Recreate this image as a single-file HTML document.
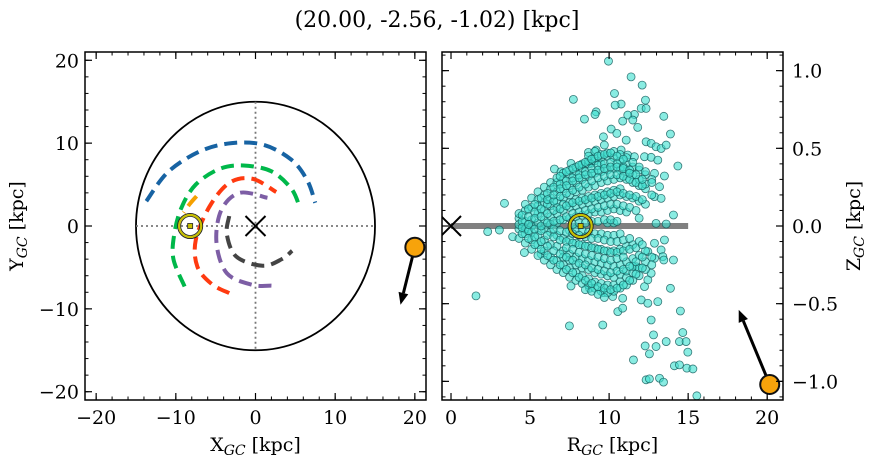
<!DOCTYPE html>
<html><head><meta charset="utf-8"><style>
html,body{margin:0;padding:0;background:#fff;}
svg{display:block;font-family:"DejaVu Serif","Liberation Serif",serif;}
</style></head><body>
<svg id="fig" width="874" height="464" viewBox="0 0 874 464" xmlns="http://www.w3.org/2000/svg">
<text x="437" y="27" text-anchor="middle" font-size="22">(20.00, -2.56, -1.02) [kpc]</text>
<g id="left"></g>
<g id="right"></g>
</svg>
<script>
// ---------- data ----------
const xyTicks = [-20,-10,0,10,20];
const rTicks = [0,5,10,15,20];
const zTicks = [-1.0,-0.5,0.0,0.5,1.0];
const zTickLabels = ["\u22121.0","\u22120.5","0.0","0.5","1.0"];
const xyTickLabels = ["\u221220","\u221210","0","10","20"];
const armNames = ["arm-outer-blue","arm-green","arm-orange","arm-red","arm-purple","arm-inner-grey"];
const armColors = ["#1763a3","#00b84a","#f5a000","#ff3a10","#7d5ea5","#444444"];
const armX = [
 [-13.7,-11,-7,-3,1,4.5,6.5,7.5],
 [-8.9,-10.3,-10.2,-9.3,-7.5,-4.5,-1.5,2,4.5,5.5],
 [-7.4,-8.3,-9.0],
 [-3.3,-5.5,-7.3,-7.5,-5.8,-3.3,-0.4,2.6],
 [2,-0.4,-3.6,-4.9,-4.3,-2,1.5],
 [-3.3,-3.6,-2.4,0.9,3.3,4.6]
];
const armY = [
 [3,6.5,9,10,9.8,8,5.5,2.8],
 [-7.3,-4,-1,2.2,5,6.9,7.3,6.6,4.5,2.4],
 [3.6,2.6,1.6],
 [-8.1,-7,-4.9,-1.7,2.3,5.2,5.7,4.1],
 [-7.2,-7.1,-5.7,-2,1.9,4,3.4],
 [1.2,-1,-3.7,-4.8,-4,-3]
];
const sunXY = [-8.2,0];
const targetXY = [20.0,-2.56];
const targetVelXY = [18.2,-9.5];
const sunRZ = [8.2,0];
const targetRZ = [20.16,-1.02];
const targetVelRZ = [18.2,-0.54];
const diskR = 15;
const coreR = [4.3,4.7,5.1,5.5,5.9,6.3,6.7,7.1,7.5,7.9,8.3,8.7,9.1,9.5,9.9,10.3,10.7,11.1,11.5,11.9,12.3,12.7];
const coreZ = [
 [.05,-.02,.08,-.08,.01],
 [.10,-.05,.03,-.11,.14,-.02],
 [.12,-.09,.04,-.15,.18,.00,-.04],
 [.17,-.12,.08,-.19,.02,.22,-.06,.13],
 [.20,-.16,.10,-.22,.04,.25,-.09,.15,-.02],
 [.24,-.20,.13,-.25,.06,.28,-.12,.18,-.04,.01],
 [.28,-.22,.16,-.28,.08,.31,-.13,.22,-.06,.02,.12],
 [.30,-.25,.18,-.30,.10,.34,-.16,.24,-.08,.04,.14,-.20],
 [.33,-.27,.20,-.33,.12,.36,-.18,.26,-.09,.05,.15,-.22,-.03],
 [.35,-.30,.22,-.35,.13,.38,-.20,.28,-.11,.06,.17,-.25,-.02],
 [.37,-.32,.23,-.37,.14,.40,-.21,.30,-.12,.07,.18,-.27,-.03],
 [.40,-.34,.25,-.38,.15,.42,-.22,.32,-.13,.08,.19,-.28,-.04,.45],
 [.42,-.36,.26,-.40,.16,.44,-.23,.34,-.14,.09,.20,-.30,-.05,.48],
 [.44,-.37,.28,-.42,.17,.46,-.24,.35,-.15,.09,.21,-.31,-.05,.40],
 [.45,-.38,.29,-.43,.18,.47,-.25,.36,-.16,.10,.22,-.32,-.06,.02],
 [.44,-.38,.30,-.42,.19,.48,-.26,.37,-.16,.11,.23,-.33,-.06,.02],
 [.42,-.36,.31,-.40,.20,.46,-.25,.36,-.15,.10,.24,-.31,-.05],
 [.40,-.33,.30,-.38,.19,.44,-.23,.35,-.13,.09,-.29],
 [.38,-.30,.28,-.35,.18,.41,-.21,.33,-.12,-.26],
 [.36,-.27,.26,-.32,.16,.38,-.19,.30,-.10,.05],
 [.33,-.23,.24,-.28,.14,.35,-.16,.27],
 [.30,-.20,.20,-.25,.28]
];
const coreR2 = [4.5,4.9,5.3,5.7,6.1,6.5,6.9,7.3,7.7,8.1,8.5,8.9,9.3,9.7,10.1,10.5,10.9,11.3,11.7,12.1];
const coreZ2 = [
 [.03,-.05,.07,-.01],
 [.06,-.08,.11,-.03,.01],
 [.09,-.12,.14,-.02,.05,-.07],
 [.11,-.15,.18,-.03,.06,-.10,.00],
 [.14,-.19,.21,-.06,.08,-.13,.02,.17],
 [.16,-.22,.25,-.07,.10,-.16,.03,.20,-.02],
 [.19,-.25,.27,-.09,.11,-.18,.04,.24,-.03,.32],
 [.21,-.28,.29,-.10,.13,-.20,.06,.26,-.04,.35,-.14],
 [.23,-.30,.31,-.11,.15,-.22,.08,.29,-.05,.37,-.15,.01],
 [.25,-.33,.33,-.12,.16,-.24,.09,.31,-.06,.39,-.17,.02],
 [.27,-.35,.35,-.13,.17,-.25,.10,.33,-.07,.41,-.18,.02,-.41],
 [.29,-.37,.37,-.14,.18,-.27,.11,.34,-.08,.43,-.19,.03,-.42],
 [.31,-.39,.39,-.15,.19,-.28,.12,.36,-.08,.45,-.20,.03,-.44],
 [.32,-.40,.40,-.16,.20,-.29,.13,.37,-.09,.46,-.21,.04,-.46],
 [.33,-.41,.41,-.17,.21,-.30,.14,.38,-.10,.47,-.22,.04],
 [.33,-.40,.40,-.17,.22,-.29,.14,.38,-.10,.45,-.21,.03],
 [.32,-.38,.38,-.16,.21,-.28,.13,.37,-.09,.43,-.20],
 [.30,-.35,.36,-.15,.20,-.26,.12,.34,-.08],
 [.28,-.31,.33,-.14,.19,-.23,.10],
 [.26,-.27,.30,-.12,.17,-.20]
];
const outR = [9.96,11.39,12.09,10.34,7.74,12.30,10.76,10.38,12.03,12.34,9.18,9.11,11.60,11.18,11.50,10.86,11.81,8.44,13.46,10.13,10.49,11.08,9.64,13.88,12.34,12.66,12.97,13.29,13.61,9.70,9.18,8.69,10.76,11.18,11.60,12.24,12.66,13.08,14.35,6.54,6.96,7.59,8.23,8.86,12.87,13.50,13.19,12.87,13.29,3.38,14.07,13.61,12.97,2.32,3.06,3.90,13.50,12.87,13.29,12.45,4.64,5.70,14.07,13.40,12.87,1.58,7.59,8.76,9.64,10.23,10.86,10.55,10.86,12.03,12.45,13.08,13.88,12.24,12.45,11.71,12.66,13.46,7.49,9.60,12.66,14.51,12.81,12.28,12.97,12.55,11.54,13.61,14.45,14.87,14.66,14.98,14.13,14.45,14.92,15.30,12.34,12.55,13.19,13.44,15.55];
const outZ = [1.061,.960,.907,.853,.815,.810,.785,.778,.757,.757,.735,.718,.718,.714,.682,.675,.635,.688,.706,.624,.596,.553,.574,.592,.542,.532,.510,.499,.521,.521,.489,.474,.489,.457,.446,.446,.442,.424,.386,.367,.349,.403,.392,.403,.339,.322,.253,.189,.178,.146,.071,.013,.017,-.036,-.026,-.069,-.090,-.111,-.154,-.165,-.171,-.180,-.219,-.197,-.208,-.450,-.386,-.401,-.429,-.454,-.465,-.551,-.529,-.476,-.497,-.487,-.401,-.390,-.347,-.262,-.304,-.219,-.643,-.637,-.605,-.547,-.701,-.772,-.776,-.823,-.862,-.744,-.744,-.744,-.686,-.812,-.900,-.894,-.915,-.920,-.990,-.984,-.980,-1.005,-1.093];

// ---------- helpers ----------
const NS="http://www.w3.org/2000/svg";
function mk(tag,attrs,parent){const e=document.createElementNS(NS,tag);for(const k in attrs)e.setAttribute(k,attrs[k]);parent.appendChild(e);return e;}
const L={x0:85,x1:426,y0:52,y1:400,xmin:-21.4,xmax:21.4,ymin:-21,ymax:21};
const R={x0:442,x1:783,y0:52,y1:400,xmin:-0.57,xmax:21.0,ymin:-1.12,ymax:1.12};
function sx(P,v){return P.x0+(v-P.xmin)/(P.xmax-P.xmin)*(P.x1-P.x0);}
function sy(P,v){return P.y1-(v-P.ymin)/(P.ymax-P.ymin)*(P.y1-P.y0);}
function smooth(pts){
 if(pts.length<3) return "M"+pts.map(p=>p.join(",")).join(" L");
 let d="M"+pts[0][0]+","+pts[0][1];
 for(let i=0;i<pts.length-1;i++){
  const p0=pts[Math.max(0,i-1)],p1=pts[i],p2=pts[i+1],p3=pts[Math.min(pts.length-1,i+2)];
  const c1=[p1[0]+(p2[0]-p0[0])/6,p1[1]+(p2[1]-p0[1])/6],c2=[p2[0]-(p3[0]-p1[0])/6,p2[1]-(p3[1]-p1[1])/6];
  d+=" C"+c1.join(",")+" "+c2.join(",")+" "+p2.join(",");
 }
 return d;
}
function ticks(g,P,major,minor,labels,majorY,minorY,labelsY,ySide){
 for(const v of minor){const x=sx(P,v);
  mk("line",{x1:x,x2:x,y1:P.y1,y2:P.y1-3.5,stroke:"#000","stroke-width":1},g);
  mk("line",{x1:x,x2:x,y1:P.y0,y2:P.y0+3.5,stroke:"#000","stroke-width":1},g);}
 major.forEach((v,i)=>{const x=sx(P,v);
  mk("line",{x1:x,x2:x,y1:P.y1,y2:P.y1-7,stroke:"#000","stroke-width":1.2},g);
  mk("line",{x1:x,x2:x,y1:P.y0,y2:P.y0+7,stroke:"#000","stroke-width":1.2},g);
  const t=mk("text",{x:x,y:P.y1+24,"text-anchor":"middle","font-size":19},g);t.textContent=labels[i];
  
  });
 for(const v of minorY){const y=sy(P,v);
  mk("line",{x1:P.x0,x2:P.x0+3.5,y1:y,y2:y,stroke:"#000","stroke-width":1},g);
  mk("line",{x1:P.x1,x2:P.x1-3.5,y1:y,y2:y,stroke:"#000","stroke-width":1},g);}
 majorY.forEach((v,i)=>{const y=sy(P,v);
  mk("line",{x1:P.x0,x2:P.x0+7,y1:y,y2:y,stroke:"#000","stroke-width":1.2},g);
  mk("line",{x1:P.x1,x2:P.x1-7,y1:y,y2:y,stroke:"#000","stroke-width":1.2},g);
  const t= ySide==="left"? mk("text",{x:P.x0-6,y:y+7,"text-anchor":"end","font-size":19},g)
                         : mk("text",{x:P.x1+9,y:y+7,"text-anchor":"start","font-size":19},g);
  t.textContent=labelsY[i];
  
  });
}
function range(a,b,s){const r=[];for(let v=a;v<=b+1e-9;v+=s)r.push(Math.round(v*1000)/1000);return r;}
function arrow(g,x1,y1,x2,y2){
 const ang=Math.atan2(y2-y1,x2-x1),hl=12,hw=5;
 const bx=x2-hl*Math.cos(ang),by=y2-hl*Math.sin(ang);
 mk("line",{x1:x1,y1:y1,x2:bx,y2:by,stroke:"#000","stroke-width":3},g);
 return mk("polygon",{points:`${x2},${y2} ${bx+hw*Math.sin(ang)},${by-hw*Math.cos(ang)} ${bx-hw*Math.sin(ang)},${by+hw*Math.cos(ang)}`,fill:"#000"},g);
}
function cross(g,x,y,s){mk("path",{d:`M${x-s},${y-s}L${x+s},${y+s}M${x-s},${y+s}L${x+s},${y-s}`,stroke:"#000","stroke-width":2,fill:"none"},g);}
function sun(g,x,y){
 mk("circle",{cx:x,cy:y,r:12.5,fill:"none",stroke:"#222","stroke-width":1},g);
 mk("circle",{cx:x,cy:y,r:11,fill:"none",stroke:"#c8c000","stroke-width":2.2},g);
 mk("circle",{cx:x,cy:y,r:9.5,fill:"none",stroke:"#222","stroke-width":0.8},g);
 mk("rect",{x:x-2.5,y:y-2.5,width:5,height:5,fill:"#c8c000",stroke:"#222","stroke-width":0.8},g);
}

// ---------- left panel ----------
const gl=document.getElementById("left");
const clipL=mk("clipPath",{id:"clipL"},gl);mk("rect",{x:L.x0,y:L.y0,width:L.x1-L.x0,height:L.y1-L.y0},clipL);
const inL=mk("g",{"clip-path":"url(#clipL)"},gl);
const cx0=sx(L,0),cy0=sy(L,0);
const disk=mk("ellipse",{cx:cx0,cy:cy0,rx:sx(L,diskR)-cx0,ry:cy0-sy(L,diskR),fill:"none",stroke:"#000","stroke-width":1.8},inL);


mk("line",{x1:sx(L,-diskR),x2:sx(L,diskR),y1:cy0,y2:cy0,stroke:"#777","stroke-width":1.8,"stroke-dasharray":"2 3"},inL);
mk("line",{x1:cx0,x2:cx0,y1:sy(L,diskR),y2:sy(L,-diskR),stroke:"#777","stroke-width":1.8,"stroke-dasharray":"2 3"},inL);
armX.forEach((xs,i)=>{
 const pts=xs.map((x,j)=>[sx(L,x),sy(L,armY[i][j])]);
 const p=mk("path",{d:smooth(pts),fill:"none",stroke:armColors[i],"stroke-width":4,"stroke-dasharray":"13 7"},inL);
 
 
});
cross(inL,cx0,cy0,10);
sun(inL,sx(L,sunXY[0]),sy(L,sunXY[1]));
const arL=arrow(gl,sx(L,targetXY[0]),sy(L,targetXY[1]),sx(L,targetVelXY[0]),sy(L,targetVelXY[1]));


const tL=mk("circle",{cx:sx(L,targetXY[0]),cy:sy(L,targetXY[1]),r:9.5,fill:"#f7a30b",stroke:"#111","stroke-width":2},gl);


mk("rect",{x:L.x0,y:L.y0,width:L.x1-L.x0,height:L.y1-L.y0,fill:"none",stroke:"#000","stroke-width":1.5},gl);
ticks(gl,L,xyTicks,range(-20,20,2),xyTickLabels,xyTicks,range(-20,20,2),xyTickLabels,"left");
let t=mk("text",{x:(L.x0+L.x1)/2,y:451,"text-anchor":"middle","font-size":19},gl);
t.innerHTML='X<tspan font-size="14" font-style="italic" dy="4">GC</tspan><tspan dy="-4"> [kpc]</tspan>';


t=mk("text",{x:0,y:0,"text-anchor":"middle","font-size":19,transform:`translate(23,${(L.y0+L.y1)/2}) rotate(-90)`},gl);
t.innerHTML='Y<tspan font-size="14" font-style="italic" dy="4">GC</tspan><tspan dy="-4"> [kpc]</tspan>';



// ---------- right panel ----------
const gr=document.getElementById("right");
const clipR=mk("clipPath",{id:"clipR"},gr);mk("rect",{x:R.x0,y:R.y0,width:R.x1-R.x0,height:R.y1-R.y0},clipR);
const inR=mk("g",{"clip-path":"url(#clipR)"},gr);
const disc=mk("line",{x1:sx(R,0),x2:sx(R,diskR),y1:sy(R,0),y2:sy(R,0),stroke:"#808080","stroke-width":6},inR);


const starG=mk("g",{},inR);


function star(r,z){
 const c=mk("circle",{cx:sx(R,r),cy:sy(R,z),r:4,fill:"rgba(64,224,208,0.62)",stroke:"#115a5a","stroke-width":0.8,"stroke-opacity":0.8},starG);
 
 
}
outR.forEach((r,i)=>star(r,outZ[i]));
coreR.forEach((r,i)=>coreZ[i].forEach(z=>star(r,z)));
coreR2.forEach((r,i)=>coreZ2[i].forEach(z=>star(r,z)));
cross(inR,sx(R,0),sy(R,0),10);
sun(inR,sx(R,sunRZ[0]),sy(R,sunRZ[1]));
const arR=arrow(gr,sx(R,targetRZ[0]),sy(R,targetRZ[1]),sx(R,targetVelRZ[0]),sy(R,targetVelRZ[1]));


const tR=mk("circle",{cx:sx(R,targetRZ[0]),cy:sy(R,targetRZ[1]),r:9.5,fill:"#f7a30b",stroke:"#111","stroke-width":2},gr);


mk("rect",{x:R.x0,y:R.y0,width:R.x1-R.x0,height:R.y1-R.y0,fill:"none",stroke:"#000","stroke-width":1.5},gr);
ticks(gr,R,rTicks,range(0,21,1),rTicks.map(String),zTicks,range(-1.1,1.1,0.1),zTickLabels,"right");
t=mk("text",{x:(R.x0+R.x1)/2,y:451,"text-anchor":"middle","font-size":19},gr);
t.innerHTML='R<tspan font-size="14" font-style="italic" dy="4">GC</tspan><tspan dy="-4"> [kpc]</tspan>';


t=mk("text",{x:0,y:0,"text-anchor":"middle","font-size":19,transform:`translate(860,${(R.y0+R.y1)/2}) rotate(-90)`},gr);
t.innerHTML='Z<tspan font-size="14" font-style="italic" dy="4">GC</tspan><tspan dy="-4"> [kpc]</tspan>';


</script>
</body></html>
